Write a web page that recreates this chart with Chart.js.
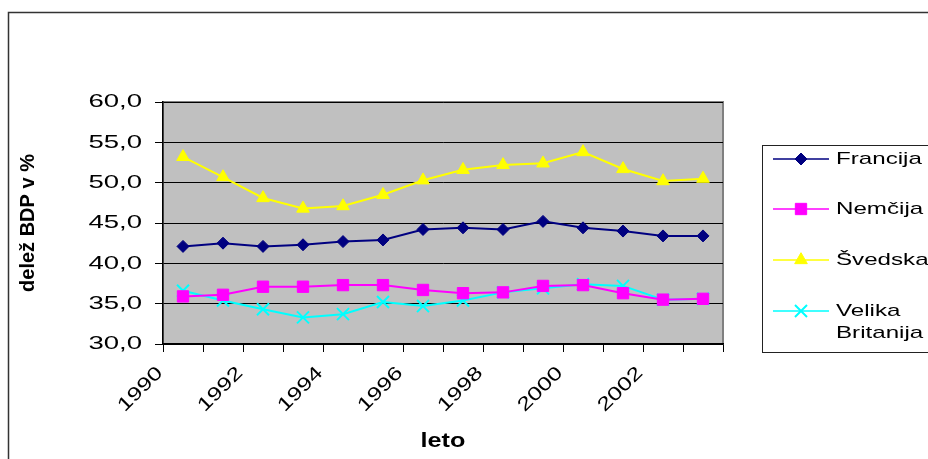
<!DOCTYPE html>
<html lang="sl">
<head>
    <meta charset="UTF-8">
    <title>Delež BDP v %</title>
    <script src="https://cdn.jsdelivr.net/npm/chart.js@4.4.1/dist/chart.umd.min.js"></script>
    <style>
        html, body { margin: 0; padding: 0; background: #fff; }
        #wrap { width: 928px; height: 459px; position: relative; }
    </style>
</head>
<body>
<div id="wrap"><canvas id="chart" width="928" height="459"></canvas></div>
<script>
    // Podatki
    const years = ['1990', '1991', '1992', '1993', '1994', '1995', '1996',
                   '1997', '1998', '1999', '2000', '2001', '2002', '2003'];
    const francija = [42.1, 42.5, 42.1, 42.3, 42.7, 42.9, 44.2, 44.4, 44.2, 45.2, 44.4, 44.0, 43.4, 43.4];
    const nemcija  = [35.9, 36.1, 37.1, 37.1, 37.3, 37.3, 36.7, 36.3, 36.4, 37.2, 37.3, 36.3, 35.5, 35.6];
    const svedska  = [53.2, 50.7, 48.1, 46.8, 47.1, 48.5, 50.3, 51.6, 52.2, 52.4, 53.8, 51.7, 50.2, 50.5];
    const britanija = [36.6, 35.4, 34.3, 33.3, 33.7, 35.2, 34.7, 35.4, 36.4, 36.9, 37.4, 37.2, 35.5, 35.6];
    const yTicks = [30, 35, 40, 45, 50, 55, 60];

    const FONT = 'Arial, "Liberation Sans", sans-serif';

    // siva ploskev in okvir grafikona
    const frame = {
        id: 'frame',
        beforeDraw(chart) {
            const { ctx, chartArea: a } = chart;
            ctx.save();
            ctx.strokeStyle = '#333';
            ctx.lineWidth = 1.5;
            ctx.strokeRect(8.5, 12.5, 1000, 600);
            ctx.fillStyle = '#c0c0c0';
            ctx.fillRect(a.left, a.top, a.right - a.left, a.bottom - a.top);
            ctx.strokeStyle = '#808080';
            ctx.lineWidth = 2;
            ctx.strokeRect(a.left, a.top, a.right - a.left, a.bottom - a.top);
            ctx.restore();
        }
    };

    // Excel pisavo raztegne vodoravno – fillText med risanjem oznak osi raztegnemo
    function stretched(fn, sx) {
        return function (area) {
            const ctx = this.ctx;
            const orig = ctx.fillText;
            ctx.fillText = function (t, x, y) {
                this.save();
                this.scale(sx, 1);
                orig.call(this, t, x / sx, y);
                this.restore();
            };
            fn(area);
            delete ctx.fillText;
        };
    }
    const wide = {
        id: 'wide',
        beforeDraw(chart) {
            Object.values(chart.scales).forEach((s) => {
                if (s._wide) return;
                s.drawLabels = stretched(s.drawLabels.bind(s), s.axis === 'x' ? 1.3 : 1.45);
                if (s.axis === 'x') s.drawTitle = stretched(s.drawTitle.bind(s), 1.2);
                s._wide = true;
            });
        }
    };

    // legenda desno
    const legendBox = {
        id: 'legendBox',
        afterDraw(chart) {
            const ctx = chart.ctx;
            ctx.save();
            ctx.strokeStyle = '#222';
            ctx.lineWidth = 1;
            ctx.strokeRect(762.5, 145.5, 300, 207);
            const rows = [159, 209, 260, 311];
            chart.data.datasets.forEach((ds, i) => {
                const y = rows[i];
                ctx.strokeStyle = ds.borderColor;
                ctx.fillStyle = ds.borderColor;
                ctx.lineWidth = 1.5;
                ctx.beginPath();
                ctx.moveTo(773, y);
                ctx.lineTo(829, y);
                ctx.stroke();
                ctx.lineWidth = ds.pointBorderWidth;
                Chart.helpers.drawPoint(ctx, {
                    pointStyle: ds.pointStyle,
                    radius: ds.pointRadius,
                    rotation: 0,
                    borderWidth: ds.pointBorderWidth
                }, 801, y);
                ctx.fillStyle = '#000';
                ctx.font = '17px ' + FONT;
                ctx.textBaseline = 'middle';
                ds.label.split(' ').forEach((part, k) => {
                    ctx.save();
                    ctx.translate(836, y + k * 22);
                    ctx.scale(1.42, 1);
                    ctx.fillText(part, 0, 0);
                    ctx.restore();
                });
            });
            ctx.restore();
        }
    };

    function series(label, data, color, style, radius) {
        return {
            label: label,
            data: data,
            borderColor: color,
            backgroundColor: color,
            pointBackgroundColor: color,
            pointBorderColor: color,
            borderWidth: 2,
            pointStyle: style,
            pointRadius: radius,
            pointBorderWidth: style === 'crossRot' ? 2 : 1,
            tension: 0
        };
    }

    new Chart(document.getElementById('chart'), {
        type: 'line',
        data: {
            labels: years,
            datasets: [
                series('Francija', francija, '#000080', 'rectRot', 6),
                series('Nemčija', nemcija, '#ff00ff', 'rect', 8),
                series('Švedska', svedska, '#ffff00', 'triangle', 7.3),
                series('Velika Britanija', britanija, '#00ffff', 'crossRot', 8.5)
            ]
        },
        options: {
            responsive: false,
            animation: false,
            layout: { padding: { left: 8, right: 205, top: 102, bottom: 0 } },
            plugins: { legend: { display: false }, tooltip: { enabled: false } },
            scales: {
                x: {
                    offset: true,
                    grid: { offset: true, drawOnChartArea: false, color: '#000', tickLength: 8 },
                    border: { color: '#000', width: 1.5 },
                    ticks: {
                        autoSkip: false,
                        maxRotation: 45,
                        minRotation: 45,
                        labelOffset: -23,
                        padding: 10,
                        color: '#000',
                        font: { family: FONT, size: 19 },
                        callback: (v, i) => (i % 2 === 0 ? years[i] : '')
                    },
                    title: {
                        display: true,
                        text: 'leto',
                        color: '#000',
                        font: { family: FONT, size: 21, weight: 'bold' },
                        padding: { top: 0, bottom: 5 }
                    },
                    afterFit: (s) => { s.height = 115; }
                },
                y: {
                    min: 30,
                    max: 60,
                    afterBuildTicks: (s) => { s.ticks = yTicks.map(v => ({ value: v })); },
                    grid: { color: '#000', tickLength: 8 },
                    border: { color: '#000', width: 1.5 },
                    ticks: {
                        padding: 13,
                        color: '#000',
                        font: { family: FONT, size: 19 },
                        callback: (v) => v.toFixed(1).replace('.', ',')
                    },
                    title: {
                        display: true,
                        text: 'delež BDP v %',
                        color: '#000',
                        font: { family: FONT, size: 20, weight: 'bold' },
                        padding: { top: 8, bottom: 0 }
                    },
                    afterFit: (s) => { s.width = 155; }
                }
            }
        },
        plugins: [frame, wide, legendBox]
    });
</script>
</body>
</html>
